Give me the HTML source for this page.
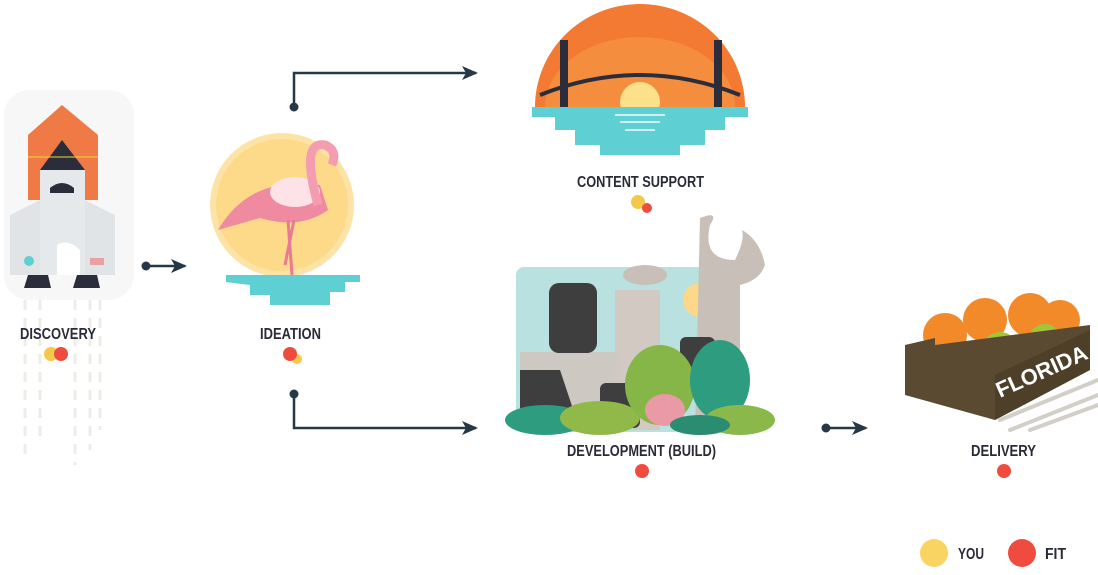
<!DOCTYPE html>
<html><head><meta charset="utf-8"><style>
html,body{margin:0;padding:0;background:#fff;}
svg{display:block}
text{font-family:"Liberation Sans Narrow","Liberation Sans",sans-serif;font-weight:bold;fill:#2a2b38;}
</style></head><body>
<svg width="1098" height="575" viewBox="0 0 1098 575" xmlns="http://www.w3.org/2000/svg">
<defs>
<marker id="ah" markerWidth="16" markerHeight="14" refX="14" refY="7" orient="auto" markerUnits="userSpaceOnUse">
<path d="M0,0 L16,7 L0,14 L4,7 Z" fill="#263846"/></marker>
</defs>
<!-- rocket glow -->
<rect x="4" y="90" width="130" height="210" rx="25" fill="#f7f7f7"/>
<g stroke="#eeece4" stroke-width="3" stroke-dasharray="10 8">
<line x1="25" y1="300" x2="25" y2="460"/><line x1="40" y1="300" x2="40" y2="440"/><line x1="75" y1="300" x2="75" y2="465"/><line x1="90" y1="300" x2="90" y2="450"/><line x1="100" y1="300" x2="100" y2="430"/>
</g>
<path d="M28,200 L28,135 L62,105 L98,135 L98,200 Z" fill="#ef7a45"/>
<path d="M40,170 L62,140 L85,170 Z" fill="#2c2d3a"/>
<line x1="28" y1="157" x2="98" y2="157" stroke="#f5d23c" stroke-width="1"/>
<path d="M40,170 L85,170 L85,275 L40,275 Z" fill="#e6e9ec"/>
<path d="M10,215 L40,200 L40,275 L10,275 Z" fill="#e1e4e7"/>
<path d="M85,200 L115,215 L115,275 L85,275 Z" fill="#e1e4e7"/>
<path d="M50,188 Q62,178 74,188 L74,193 L50,193 Z" fill="#2c2d3a"/>
<path d="M57,275 L57,245 Q68,238 80,250 L80,275 Z" fill="#fff"/>
<circle cx="29" cy="261" r="5" fill="#5fcfd1"/>
<rect x="90" y="258" width="14" height="7" fill="#e8a0a0"/>
<path d="M28,275 L48,275 L51,288 L24,288 Z" fill="#2c2d3a"/>
<path d="M77,275 L97,275 L100,288 L73,288 Z" fill="#2c2d3a"/>
<text x="20" y="339" font-size="16" textLength="76" lengthAdjust="spacingAndGlyphs">DISCOVERY</text>
<circle cx="51" cy="354" r="7" fill="#f5c84a"/><circle cx="61" cy="354" r="7" fill="#ef4c3f"/>
<!-- arrow 1 -->
<circle cx="146" cy="266" r="4.5" fill="#263846"/>
<line x1="146" y1="266" x2="185" y2="266" stroke="#263846" stroke-width="2.5" marker-end="url(#ah)"/>
<!-- flamingo -->
<circle cx="282" cy="205" r="72" fill="#fde3a6"/>
<circle cx="282" cy="205" r="66" fill="#fcda8a"/>
<path d="M226,275 L360,275 L360,282 L345,282 L345,292 L330,292 L330,305 L270,305 L270,295 L250,295 L250,285 L226,282 Z" fill="#5ecfd3"/>
<path d="M218,230 Q250,175 320,185 L328,210 Q300,230 260,218 Z" fill="#f08aa0"/>
<ellipse cx="295" cy="192" rx="25" ry="15" fill="#fde2e8"/>
<path d="M318,205 Q300,140 325,145 Q338,150 332,165" stroke="#f49db1" stroke-width="9" fill="none"/>
<line x1="288" y1="220" x2="292" y2="275" stroke="#ea7a94" stroke-width="3"/>
<line x1="294" y1="220" x2="285" y2="265" stroke="#ea7a94" stroke-width="3"/>
<text x="260" y="339" font-size="16" textLength="61" lengthAdjust="spacingAndGlyphs">IDEATION</text>
<circle cx="297" cy="359" r="5" fill="#f5c84a"/><circle cx="290" cy="354" r="7" fill="#ef4c3f"/>
<!-- connectors -->
<circle cx="294" cy="107" r="4.5" fill="#263846"/>
<polyline points="294,107 294,73 476,73" fill="none" stroke="#263846" stroke-width="2.5" marker-end="url(#ah)"/>
<circle cx="294" cy="394" r="4.5" fill="#263846"/>
<polyline points="294,394 294,428 476,428" fill="none" stroke="#263846" stroke-width="2.5" marker-end="url(#ah)"/>
<!-- bridge -->
<path d="M535,107 A105,103 0 0 1 745,107 Z" fill="#f27a32"/>
<path d="M545,107 A95,70 0 0 1 735,107 Z" fill="#f59a45" opacity="0.6"/>
<circle cx="640" cy="102" r="20" fill="#fde08a"/>
<path d="M540,95 Q640,55 740,95" stroke="#2c2d3a" stroke-width="4" fill="none"/>
<rect x="560" y="40" width="8" height="67" fill="#2c2d3a"/><rect x="714" y="40" width="8" height="67" fill="#2c2d3a"/>
<path d="M532,107 L748,107 L748,117 L725,117 L725,130 L705,130 L705,145 L680,145 L680,155 L600,155 L600,145 L575,145 L575,130 L555,130 L555,117 L532,117 Z" fill="#5ecfd3"/>
<g stroke="#fff" stroke-width="2" opacity="0.7"><line x1="615" y1="115" x2="665" y2="115"/><line x1="620" y1="122" x2="660" y2="122"/><line x1="625" y1="130" x2="655" y2="130"/></g>
<text x="577" y="187" font-size="16" textLength="127" lengthAdjust="spacingAndGlyphs">CONTENT SUPPORT</text>
<circle cx="638" cy="202" r="7" fill="#f5c84a"/><circle cx="647" cy="208" r="5" fill="#ef4c3f"/>
<!-- development -->
<rect x="516" y="267" width="200" height="165" rx="8" fill="#b9e1df"/>
<circle cx="700" cy="300" r="17" fill="#fcd888"/>
<path d="M700,218 Q720,210 710,225 Q702,260 735,260 Q745,240 742,230 Q760,240 765,265 Q760,280 740,285 L740,430 L695,430 Z" fill="#c8c0b8"/>
<rect x="615" y="290" width="45" height="140" fill="#d2cac2"/>
<ellipse cx="645" cy="275" rx="22" ry="10" fill="#c8c0b8"/>
<rect x="520" y="352" width="100" height="80" fill="#cec8c2"/>
<rect x="549" y="283" width="48" height="70" rx="10" fill="#3e3e3e"/>
<path d="M520,370 L560,370 L575,415 L520,415 Z" fill="#3e3e3e"/>
<rect x="600" y="383" width="40" height="45" rx="6" fill="#3e3e3e"/>
<rect x="680" y="337" width="35" height="50" rx="6" fill="#3e3e3e"/>
<g>
<ellipse cx="545" cy="420" rx="40" ry="15" fill="#2e9c7f"/>
<ellipse cx="600" cy="418" rx="40" ry="17" fill="#90b94a"/>
<ellipse cx="660" cy="385" rx="35" ry="40" fill="#86b548"/>
<ellipse cx="720" cy="380" rx="30" ry="40" fill="#2e9c7f"/>
<ellipse cx="665" cy="410" rx="20" ry="16" fill="#e99aa5"/>
<ellipse cx="740" cy="420" rx="35" ry="15" fill="#8ab84a"/>
<ellipse cx="700" cy="425" rx="30" ry="10" fill="#2a8c70"/>
</g>
<text x="567" y="456" font-size="16" textLength="149" lengthAdjust="spacingAndGlyphs">DEVELOPMENT (BUILD)</text>
<circle cx="642" cy="471" r="7" fill="#ef4c3f"/>
<!-- arrow 3 -->
<circle cx="826" cy="428" r="4.5" fill="#263846"/>
<line x1="826" y1="428" x2="866" y2="428" stroke="#263846" stroke-width="2.5" marker-end="url(#ah)"/>
<!-- crate -->
<g stroke="#d2cec8" stroke-width="4" stroke-linecap="round"><line x1="1000" y1="420" x2="1098" y2="380"/><line x1="1010" y1="430" x2="1098" y2="395"/><line x1="1030" y1="430" x2="1098" y2="405"/></g>
<circle cx="945" cy="335" r="22" fill="#f28a2a"/><circle cx="985" cy="320" r="22" fill="#f28a2a"/><circle cx="1030" cy="315" r="22" fill="#f28a2a"/><circle cx="1060" cy="320" r="20" fill="#f28a2a"/>
<circle cx="1000" cy="350" r="18" fill="#a2c63a"/><circle cx="1045" cy="340" r="16" fill="#a2c63a"/>
<path d="M905,345 L935,338 L935,345 L1090,325 L1090,370 L995,420 L905,395 Z" fill="#5a4a32"/>
<path d="M995,375 L1090,330 L1090,370 L995,420 Z" fill="#4e4028"/>
<text x="1000" y="398" font-size="22" transform="rotate(-24 1000 398)" style="fill:#fff">FLORIDA</text>
<text x="971" y="456" font-size="16" textLength="65" lengthAdjust="spacingAndGlyphs">DELIVERY</text>
<circle cx="1004" cy="471" r="7" fill="#ef4c3f"/>
<!-- legend -->
<circle cx="934" cy="553" r="14" fill="#f9d463"/>
<text x="958" y="559" font-size="16" textLength="26" lengthAdjust="spacingAndGlyphs">YOU</text>
<circle cx="1022" cy="553" r="14" fill="#ef4c3f"/>
<text x="1045" y="559" font-size="16" textLength="21" lengthAdjust="spacingAndGlyphs">FIT</text>
</svg>
</body></html>
